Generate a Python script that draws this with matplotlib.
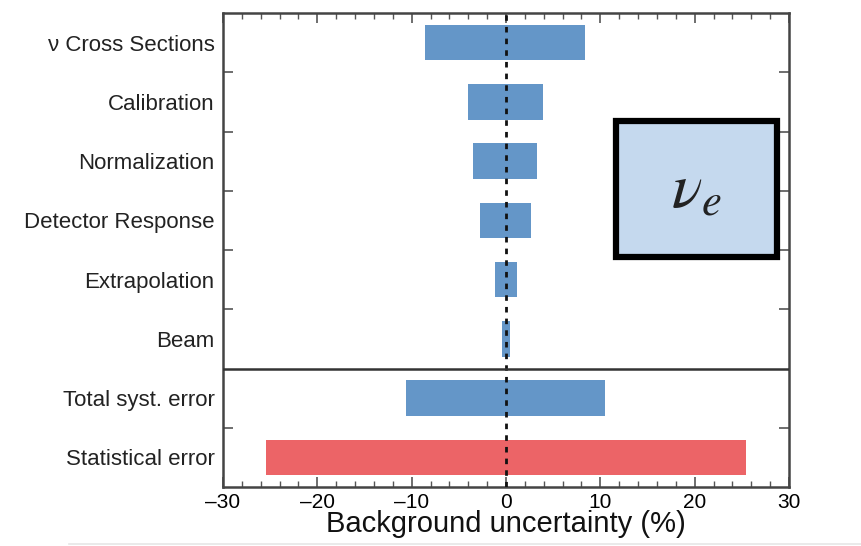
import matplotlib
matplotlib.use("Agg")
import matplotlib.pyplot as plt
from matplotlib.patches import Rectangle
from matplotlib.ticker import MultipleLocator

# rows from top to bottom
labels = ["\u03bd Cross Sections", "Calibration", "Normalization",
          "Detector Response", "Extrapolation", "Beam",
          "Total syst. error", "Statistical error"]
low = [-8.6, -4.05, -3.45, -2.75, -1.17, -0.42, -10.6, -25.4]
high = [8.4, 3.95, 3.3, 2.7, 1.17, 0.42, 10.5, 25.4]
colors = ["#6496c8"] * 7 + ["#ec6467"]
xticks = [-30, -20, -10, 0, 10, 20, 30]

plt.rcParams['font.family'] = ['Liberation Sans', 'DejaVu Sans']
plt.rcParams['mathtext.fontset'] = 'stix'

fig = plt.figure(figsize=(8.61, 5.46), dpi=100)
ax = fig.add_axes([0.259, 0.108, 0.6574, 0.868])

n = len(labels)
ypos = [n - 1 - i + 0.5 for i in range(n)]
for y, lo, hi, c in zip(ypos, low, high, colors):
    ax.barh(y, hi - lo, left=lo, height=0.6, color=c, zorder=2)

ax.axvline(0, color="#111111", lw=2.0, ls=(0, (2.0, 2.2)), zorder=3)
ax.axhline(2, color="#333333", lw=1.8, zorder=3)

ax.set_xlim(-30, 30)
ax.set_ylim(0, n)

ax.set_xticks(xticks)
ax.set_xticklabels([str(t).replace("-", "\u2013") for t in xticks])
ax.xaxis.set_minor_locator(MultipleLocator(2))

# boundary ticks at major, row labels on minor ticks
ax.set_yticks([1, 3, 4, 5, 6, 7])
ax.set_yticklabels([])
ax.set_yticks(ypos, minor=True)
ax.set_yticklabels(labels, minor=True, fontsize=16, color="#222222")
ax.tick_params(axis="y", which="minor", length=0, pad=6)
ax.tick_params(axis="y", which="major", direction="in", length=7, width=1.2,
               color="#555555", left=True, right=True)
ax.tick_params(axis="x", which="major", direction="in", length=7, width=1.2,
               color="#555555", top=True, bottom=True, labelsize=15, pad=4)
ax.tick_params(axis="x", which="minor", direction="in", length=4, width=1.0,
               color="#555555", top=True, bottom=True)

for s in ax.spines.values():
    s.set_color("#444444")
    s.set_linewidth(1.8)

ax.set_xlabel("Background uncertainty (%)", fontsize=21, labelpad=-1,
              color="#111111")

# nu_e box
box = Rectangle((0.695, 0.486), 0.283, 0.287, transform=ax.transAxes,
                facecolor="#c5d9ee", edgecolor="black", lw=4.5, zorder=4)
ax.add_patch(box)
ax.text(0.836, 0.627, r"$\nu_e$", transform=ax.transAxes, fontsize=46,
        ha="center", va="center", color="#222222", zorder=5)

fig.add_artist(plt.Line2D([0.08, 1.0], [0.003, 0.003], color="#e6e6e6", lw=1.2))

fig.savefig("out.png", dpi=100)
